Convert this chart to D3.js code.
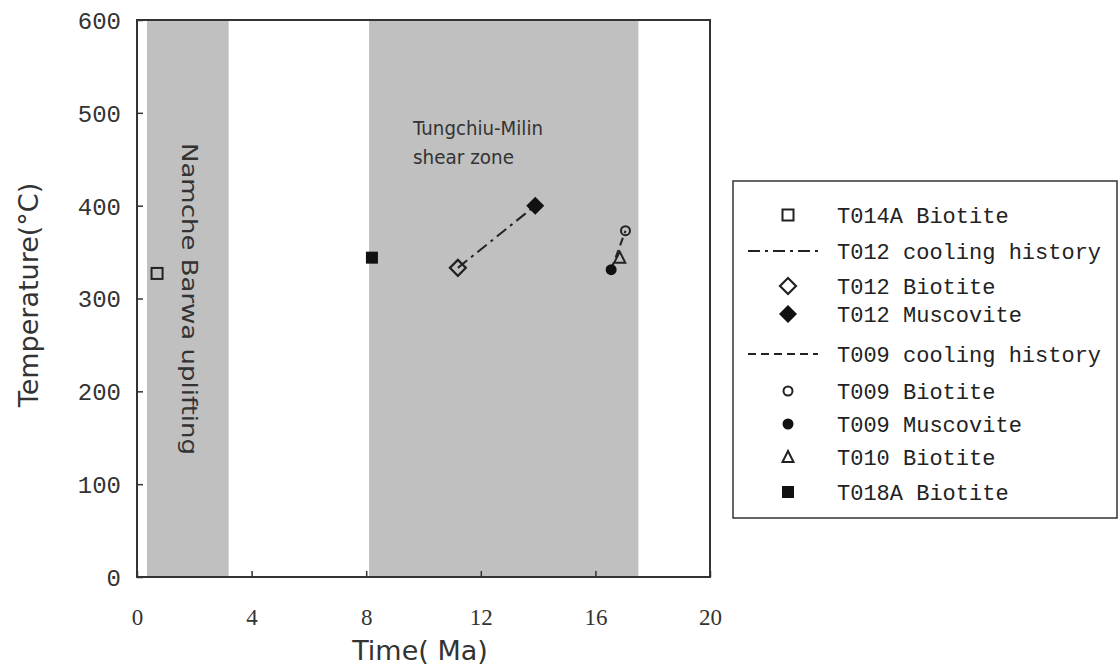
<!DOCTYPE html>
<html><head><meta charset="utf-8">
<script src="https://cdn.jsdelivr.net/npm/d3@7"></script>
<style>body{margin:0;background:#fff}svg{display:block}</style>
</head><body>
<svg id="c" width="1120" height="668"></svg>
<script>
// ---- data ----
const xTicks = [0, 4, 8, 12, 16, 20];
const yTicks = [0, 100, 200, 300, 400, 500, 600];
const bandNames = ["Namche Barwa uplifting", "Tungchiu-Milin shear zone"];
const bandStart = [0.35, 8.1];
const bandEnd = [3.2, 17.5];
const sampleNames = ["T014A Biotite", "T012 Biotite", "T012 Muscovite", "T009 Biotite", "T009 Muscovite", "T010 Biotite", "T018A Biotite"];
const sampleAge = [0.7, 11.2, 13.9, 17.05, 16.55, 16.85, 8.2];
const sampleTemp = [327, 333, 400, 373, 331, 344, 344];
const sampleSymbol = ["openSquare", "openDiamond", "filledDiamond", "openCircle", "filledCircle", "openTriangle", "filledSquare"];
const coolingNames = ["T012 cooling history", "T009 cooling history"];
const coolingFrom = ["T012 Biotite", "T009 Muscovite"];
const coolingTo = ["T012 Muscovite", "T009 Biotite"];
const coolingDash = ["12,5,3,5", "8,5"];
const legendOrder = ["T014A Biotite", "T012 cooling history", "T012 Biotite", "T012 Muscovite", "T009 cooling history", "T009 Biotite", "T009 Muscovite", "T010 Biotite", "T018A Biotite"];

// ---- layout ----
const svg = d3.select("#c");
const L = 137, R = 710, T = 20, B = 577;
const x = d3.scaleLinear().domain([0, 20]).range([L, R]);
const y = d3.scaleLinear().domain([0, 600]).range([B, T]);
const ink = "#222";

// bands
svg.selectAll("rect.band").data(bandStart).join("rect")
  .attr("x", (d, i) => x(d)).attr("y", T)
  .attr("width", (d, i) => x(bandEnd[i]) - x(d)).attr("height", B - T)
  .attr("fill", "#c0c0c0");

// frame
svg.append("rect").attr("x", L).attr("y", T).attr("width", R - L).attr("height", B - T)
  .attr("fill", "none").attr("stroke", "#333").attr("stroke-width", 2);

// axes
const xAxis = d3.axisBottom(x).tickValues(xTicks).tickSize(-6).tickPadding(0).tickFormat(d3.format("d"));
const gx = svg.append("g").attr("transform", `translate(0,${B})`).call(xAxis);
gx.select(".domain").remove();
gx.selectAll(".tick line").attr("stroke", "#333").attr("stroke-width", 1.5);
gx.selectAll(".tick text").attr("font-family", "Liberation Serif").attr("font-size", 23)
  .attr("fill", "#333").attr("dy", null).attr("y", 48);

const yAxis = d3.axisLeft(y).tickValues(yTicks).tickSize(-6).tickPadding(0);
const gy = svg.append("g").attr("transform", `translate(${L},0)`).call(yAxis);
gy.select(".domain").remove();
gy.selectAll(".tick line").attr("stroke", "#333").attr("stroke-width", 1.5);
gy.selectAll(".tick text").attr("font-family", "Liberation Mono").attr("font-size", 24)
  .attr("fill", "#333").attr("x", -16).attr("dy", "0.35em");

// axis titles
svg.append("text").attr("x", 420).attr("y", 660).attr("text-anchor", "middle")
  .attr("font-family", "DejaVu Sans").attr("font-size", 27).attr("fill", "#333")
  .text("Time( Ma)");
svg.append("text").attr("transform", `translate(38,295) rotate(-90)`).attr("text-anchor", "middle")
  .attr("font-family", "DejaVu Sans").attr("font-size", 27).attr("fill", "#333")
  .text("Temperature(\u00B0C)");

// band labels
svg.append("text").attr("transform", `translate(182,143) rotate(90)`).attr("text-anchor", "start")
  .attr("font-family", "DejaVu Sans").attr("font-size", 21).attr("fill", "#333")
  .attr("textLength", 312).attr("lengthAdjust", "spacingAndGlyphs")
  .text(bandNames[0]);
const sz = bandNames[1].split(" ");
svg.append("text").attr("x", 413).attr("y", 135)
  .attr("font-family", "DejaVu Sans").attr("font-size", 19).attr("fill", "#333")
  .attr("textLength", 130).attr("lengthAdjust", "spacingAndGlyphs")
  .text(sz[0]);
svg.append("text").attr("x", 413).attr("y", 164)
  .attr("font-family", "DejaVu Sans").attr("font-size", 19).attr("fill", "#333")
  .attr("textLength", 101).attr("lengthAdjust", "spacingAndGlyphs")
  .text(sz[1] + " " + sz[2]);

// symbol drawing
function drawSymbol(g, kind, cx, cy) {
  if (kind === "openSquare") g.append("rect").attr("x", cx - 5.5).attr("y", cy - 5.5).attr("width", 11).attr("height", 11).attr("fill", "none").attr("stroke", ink).attr("stroke-width", 2);
  if (kind === "filledSquare") g.append("rect").attr("x", cx - 6).attr("y", cy - 6).attr("width", 12).attr("height", 12).attr("fill", "#111");
  if (kind === "openDiamond") g.append("path").attr("d", `M${cx},${cy - 8}L${cx + 8},${cy}L${cx},${cy + 8}L${cx - 8},${cy}Z`).attr("fill", "none").attr("stroke", ink).attr("stroke-width", 2.2);
  if (kind === "filledDiamond") g.append("path").attr("d", `M${cx},${cy - 9}L${cx + 9},${cy}L${cx},${cy + 9}L${cx - 9},${cy}Z`).attr("fill", "#111");
  if (kind === "openCircle") g.append("circle").attr("cx", cx).attr("cy", cy).attr("r", 4.5).attr("fill", "none").attr("stroke", ink).attr("stroke-width", 2);
  if (kind === "filledCircle") g.append("circle").attr("cx", cx).attr("cy", cy).attr("r", 5.5).attr("fill", "#111");
  if (kind === "openTriangle") g.append("path").attr("d", `M${cx},${cy - 6}L${cx + 5.5},${cy + 5}L${cx - 5.5},${cy + 5}Z`).attr("fill", "none").attr("stroke", ink).attr("stroke-width", 2);
}

// cooling lines
const idx = n => sampleNames.indexOf(n);
coolingNames.forEach((n, i) => {
  const a = idx(coolingFrom[i]), b = idx(coolingTo[i]);
  svg.append("line").attr("x1", x(sampleAge[a])).attr("y1", y(sampleTemp[a]))
    .attr("x2", x(sampleAge[b])).attr("y2", y(sampleTemp[b]))
    .attr("stroke", ink).attr("stroke-width", 2).attr("stroke-dasharray", coolingDash[i]);
});

// points
const gp = svg.append("g");
sampleNames.forEach((n, i) => drawSymbol(gp, sampleSymbol[i], x(sampleAge[i]), y(sampleTemp[i])));

// legend
const lg = svg.append("g");
lg.append("rect").attr("x", 733).attr("y", 181).attr("width", 384).attr("height", 337)
  .attr("fill", "#fff").attr("stroke", "#333").attr("stroke-width", 1.5);
const rowY = [215, 251, 286, 314, 354, 391, 424, 457, 492];
legendOrder.forEach((n, i) => {
  const ry = rowY[i];
  const ci = coolingNames.indexOf(n);
  if (ci >= 0) {
    lg.append("line").attr("x1", 748).attr("x2", 818).attr("y1", ry).attr("y2", ry)
      .attr("stroke", ink).attr("stroke-width", 2).attr("stroke-dasharray", coolingDash[ci]);
  } else {
    drawSymbol(lg, sampleSymbol[idx(n)], 788, ry);
  }
  lg.append("text").attr("x", 837).attr("y", ry).attr("dy", "0.35em")
    .attr("font-family", "Liberation Mono").attr("font-size", 22).attr("fill", "#222")
    .text(n);
});
</script>
</body></html>
